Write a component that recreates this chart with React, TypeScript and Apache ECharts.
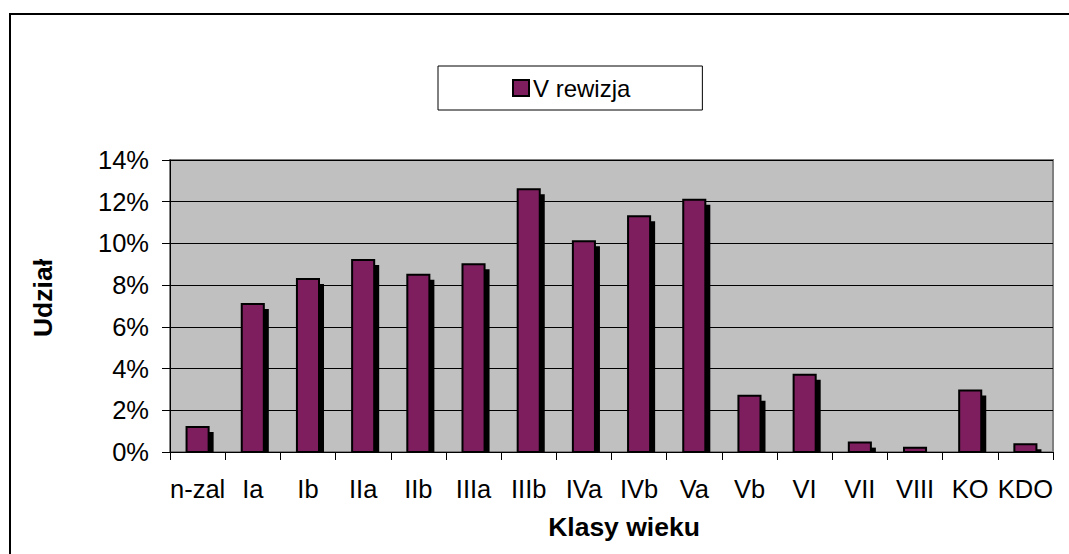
import React, { useEffect, useRef } from "react";
import * as echarts from "echarts";

const categories = ["n-zal", "Ia", "Ib", "IIa", "IIb", "IIIa", "IIIb", "IVa", "IVb", "Va", "Vb", "VI", "VII", "VIII", "KO", "KDO"];
const values = [1.2, 7.1, 8.3, 9.2, 8.5, 9.0, 12.6, 10.1, 11.3, 12.1, 2.7, 3.7, 0.45, 0.2, 2.95, 0.37];
const yTicks = [0, 2, 4, 6, 8, 10, 12, 14];
const seriesName = "V rewizja";
const xTitle = "Klasy wieku";
const yTitle = "Udział";

const FONT = "'Liberation Sans', Arial, sans-serif";
const BAR = "#7E1E5E";

export default function App() {
  const ref = useRef<HTMLDivElement>(null);
  useEffect(() => {
    if (!ref.current) return;
    const chart = echarts.init(ref.current, null, { renderer: "svg" });
    chart.setOption({
      animation: false,
      backgroundColor: "#fff",
      textStyle: { fontFamily: FONT },
      grid: {
        left: 170,
        top: 160,
        right: 16,
        bottom: 102,
        show: true,
        backgroundColor: "#C0C0C0",
        borderColor: "#808080",
        borderWidth: 2,
      },
      legend: {
        left: 438,
        top: 66,
        padding: [10, 72, 10, 74],
        borderColor: "#000",
        borderWidth: 1,
        backgroundColor: "#fff",
        selectedMode: false,
        itemWidth: 16,
        itemHeight: 16,
        itemGap: 5,
        textStyle: { fontSize: 24, color: "#000", fontFamily: FONT, padding: [0, 0, 0, -1] },
        data: [
          {
            name: seriesName,
            icon: "rect",
            itemStyle: { color: BAR, borderColor: "#000", borderWidth: 2 },
          },
        ],
      },
      xAxis: {
        type: "category",
        data: categories,
        boundaryGap: true,
        axisLine: { show: true, lineStyle: { color: "#000", width: 1 } },
        axisTick: { show: true, length: 8, alignWithLabel: false, lineStyle: { color: "#000" } },
        axisLabel: { fontSize: 25.5, color: "#000", margin: 24, interval: 0, fontFamily: FONT },
        splitLine: { show: false },
      },
      yAxis: {
        type: "value",
        min: yTicks[0],
        max: yTicks[yTicks.length - 1],
        interval: 2,
        axisLine: { show: true, lineStyle: { color: "#000", width: 1 } },
        axisTick: { show: true, length: 8, lineStyle: { color: "#000" } },
        axisLabel: { fontSize: 25.5, color: "#000", margin: 21, formatter: "{value}%", fontFamily: FONT },
        splitLine: { show: true, lineStyle: { color: "#000", width: 1 } },
      },
      series: [
        {
          name: seriesName,
          type: "custom",
          itemStyle: { color: BAR },
          data: values.map((v, i) => [i, v]),
          encode: { x: 0, y: 1 },
          renderItem: (params: any, api: any) => {
            const idx = api.value(0);
            const v = api.value(1);
            const top = api.coord([idx, v]);
            const base = api.coord([idx, 0]);
            const bw = api.size([1, 0])[0] / 2.5;
            const x = top[0] - bw / 2;
            const h = base[1] - top[1];
            const off = 5;
            return {
              type: "group",
              children: [
                {
                  type: "rect",
                  shape: { x: x + off, y: top[1] + off, width: bw, height: Math.max(h - off, 0) },
                  style: { fill: "#000" },
                },
                {
                  type: "rect",
                  shape: { x, y: top[1], width: bw, height: h },
                  style: { fill: BAR, stroke: "#000", lineWidth: 2 },
                },
              ],
            };
          },
        },
      ],
      graphic: [
        {
          type: "rect",
          shape: { x: 10, y: 14, width: 1200, height: 700 },
          style: { fill: "none", stroke: "#000", lineWidth: 2 },
          silent: true,
          z: 100,
        },
        {
          type: "text",
          x: 624,
          y: 527,
          style: {
            text: xTitle,
            fontSize: 26.5,
            fontWeight: "bold",
            fill: "#000",
            fontFamily: FONT,
            align: "center",
            verticalAlign: "middle",
          },
        },
        {
          type: "text",
          x: 43,
          y: 298,
          rotation: Math.PI / 2,
          style: {
            text: yTitle,
            fontSize: 26.5,
            fontWeight: "bold",
            fill: "#000",
            fontFamily: FONT,
            align: "center",
            verticalAlign: "middle",
          },
        },
      ],
    });
    return () => chart.dispose();
  }, []);
  return (
    <div
      ref={ref}
      style={{ position: "fixed", left: 0, top: 0, width: 1069, height: 554 }}
    />
  );
}
